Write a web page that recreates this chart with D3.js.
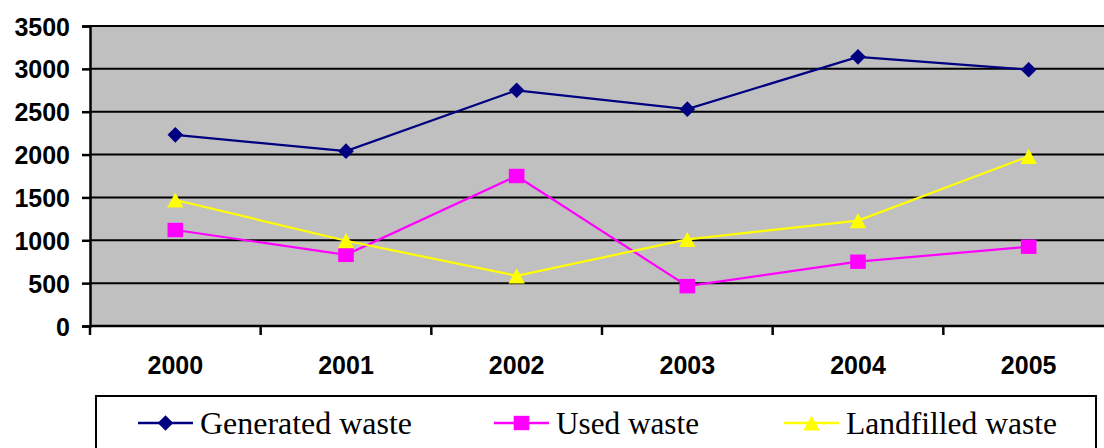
<!DOCTYPE html>
<html>
<head>
<meta charset="utf-8">
<script src="https://cdn.jsdelivr.net/npm/d3@7"></script>
<style>
  html, body { margin: 0; padding: 0; background: #ffffff; }
  svg { display: block; }
</style>
</head>
<body>
<div id="chart"></div>
<script>
// Waste statistics, thousand tonnes per year
const years = ["2000", "2001", "2002", "2003", "2004", "2005"];
const generatedWaste = [2230, 2040, 2750, 2530, 3140, 2990];
const usedWaste = [1120, 830, 1750, 465, 750, 925];
const landfilledWaste = [1470, 995, 585, 1010, 1230, 1980];
const yTicks = [0, 500, 1000, 1500, 2000, 2500, 3000, 3500];
const seriesNames = ["Generated waste", "Used waste", "Landfilled waste"];

const W = 1104, H = 448;
const plot = { left: 90, top: 26, right: 1114, bottom: 326 };

const series = [
  { name: seriesNames[0], values: generatedWaste, color: "#000080", marker: "diamond" },
  { name: seriesNames[1], values: usedWaste, color: "#ff00ff", marker: "square" },
  { name: seriesNames[2], values: landfilledWaste, color: "#ffff00", marker: "triangle" }
];

const svg = d3.select("#chart").append("svg")
  .attr("width", W).attr("height", H)
  .style("background", "#ffffff");

const x = d3.scaleBand().domain(years).range([plot.left, plot.right]).padding(0);
const y = d3.scaleLinear().domain([0, 3500]).range([plot.bottom, plot.top]);

// plot area background
svg.append("rect")
  .attr("x", plot.left).attr("y", plot.top)
  .attr("width", plot.right - plot.left).attr("height", plot.bottom - plot.top)
  .attr("fill", "#c0c0c0");

// horizontal gridlines
svg.append("g").selectAll("line").data(yTicks.filter(d => d > 0)).join("line")
  .attr("x1", plot.left).attr("x2", plot.right)
  .attr("y1", d => y(d)).attr("y2", d => y(d))
  .attr("stroke", "#000").attr("stroke-width", 2);

const axisFont = "Liberation Sans, Arial, sans-serif";

// y axis
const yAxis = svg.append("g")
  .attr("transform", `translate(${plot.left},0)`)
  .call(d3.axisLeft(y).tickValues(yTicks).tickSize(8).tickPadding(12).tickFormat(d3.format("d")));
yAxis.select(".domain").attr("stroke", "#000").attr("stroke-width", 2.5);
yAxis.selectAll(".tick line").attr("stroke", "#000").attr("stroke-width", 2.5);
yAxis.selectAll(".tick text")
  .attr("font-family", axisFont)
  .attr("font-weight", "bold").attr("font-size", 25).attr("fill", "#000")
  .attr("dy", "0.36em");

// x axis: ticks at category boundaries
const bounds = years.map(d => x(d)).concat([x(years[years.length - 1]) + x.bandwidth()]);
const xAxis = svg.append("g");
xAxis.append("line")
  .attr("x1", plot.left).attr("x2", plot.right)
  .attr("y1", plot.bottom).attr("y2", plot.bottom)
  .attr("stroke", "#000").attr("stroke-width", 2.5);
xAxis.selectAll("line.tick").data(bounds).join("line")
  .attr("class", "tick")
  .attr("x1", d => d).attr("x2", d => d)
  .attr("y1", plot.bottom).attr("y2", plot.bottom + 9)
  .attr("stroke", "#000").attr("stroke-width", 2.5);
xAxis.selectAll("text").data(years).join("text")
  .attr("x", d => x(d) + x.bandwidth() / 2)
  .attr("y", 374)
  .attr("text-anchor", "middle")
  .attr("font-family", axisFont)
  .attr("font-weight", "bold").attr("font-size", 25).attr("fill", "#000")
  .text(d => d);

// marker shapes, drawn around the point
const markerPath = {
  diamond: () => { const r = 7.8; return `M0,${-r}L${r},0L0,${r}L${-r},0Z`; },
  square: () => { const w = 7.8, h = 7.2; return `M${-w},${-h}H${w}V${h}H${-w}Z`; },
  triangle: () => { const w = 8.2, h = 7.6; return `M0,${-h}L${w},${h}L${-w},${h}Z`; }
};

const line = d3.line()
  .x((d, i) => x(years[i]) + x.bandwidth() / 2)
  .y(d => y(d));

series.forEach(s => {
  const g = svg.append("g");
  g.append("path")
    .attr("d", line(s.values))
    .attr("fill", "none")
    .attr("stroke", s.color)
    .attr("stroke-width", 2.2);
  g.selectAll("path.marker").data(s.values).join("path")
    .attr("class", "marker")
    .attr("transform", (d, i) => `translate(${x(years[i]) + x.bandwidth() / 2},${y(d)})`)
    .attr("d", markerPath[s.marker]())
    .attr("fill", s.color);
});

// legend
const legend = svg.append("g");
legend.append("rect")
  .attr("x", 96).attr("y", 396)
  .attr("width", 1000).attr("height", 70)
  .attr("fill", "#ffffff")
  .attr("stroke", "#000").attr("stroke-width", 2);

const legendX = [138, 494, 784];
const legendTextWidth = [212, 143, 211];
series.forEach((s, i) => {
  const lx = legendX[i], ly = 423;
  legend.append("line")
    .attr("x1", lx).attr("x2", lx + 55)
    .attr("y1", ly).attr("y2", ly)
    .attr("stroke", s.color).attr("stroke-width", 2.5);
  legend.append("path")
    .attr("transform", `translate(${lx + 27.5},${ly})`)
    .attr("d", markerPath[s.marker]())
    .attr("fill", s.color);
  legend.append("text")
    .attr("x", lx + 62).attr("y", 434)
    .attr("font-family", "Liberation Serif, Times New Roman, serif")
    .attr("font-size", 32).attr("fill", "#000")
    .attr("textLength", legendTextWidth[i])
    .attr("lengthAdjust", "spacingAndGlyphs")
    .text(s.name);
});
</script>
</body>
</html>
